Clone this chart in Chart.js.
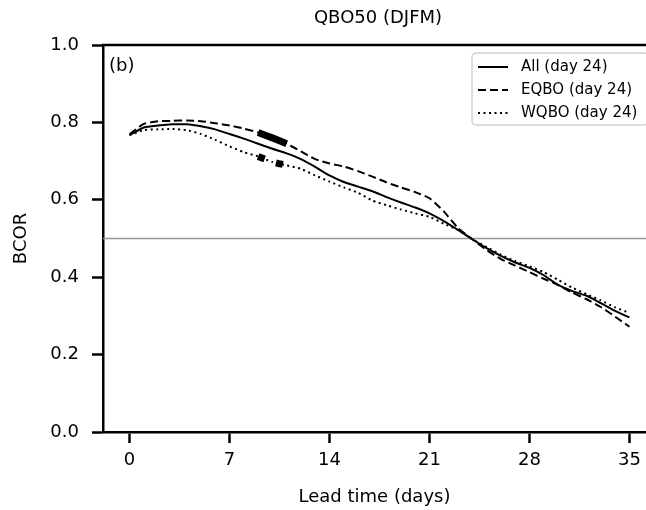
<!DOCTYPE html>
<html>
<head>
<meta charset="utf-8">
<script src="https://cdn.jsdelivr.net/npm/chart.js@4"></script>
<style>
  body { margin: 0; background: #fff; }
  canvas { display: block; }
</style>
</head>
<body>
<canvas id="bcorChart" width="646" height="510"></canvas>
<script>
// Lead time (days)
const leadDays = [0,1,2,3,4,5,6,7,8,9,10,11,12,13,14,15,16,17,18,19,20,21,22,23,24,25,26,27,28,29,30,31,32,33,34,35];

// BCOR per series
const allBcor = [0.767,0.787,0.792,0.795,0.795,0.790,0.782,0.770,0.758,0.745,0.732,0.720,0.705,0.685,0.663,0.646,0.634,0.622,0.607,0.593,0.580,0.565,0.545,0.522,0.498,0.475,0.455,0.438,0.424,0.405,0.380,0.364,0.352,0.333,0.313,0.296];
const eqboBcor = [0.770,0.796,0.803,0.804,0.805,0.803,0.798,0.792,0.784,0.774,0.760,0.745,0.725,0.705,0.694,0.686,0.674,0.660,0.645,0.632,0.620,0.604,0.570,0.527,0.498,0.470,0.447,0.430,0.413,0.396,0.380,0.360,0.343,0.323,0.298,0.272];
const wqboBcor = [0.767,0.780,0.782,0.783,0.780,0.770,0.755,0.738,0.723,0.712,0.698,0.689,0.680,0.663,0.647,0.632,0.618,0.598,0.586,0.575,0.565,0.556,0.538,0.522,0.498,0.478,0.458,0.442,0.428,0.413,0.393,0.373,0.356,0.340,0.322,0.308];

// highlighted lead-time window (days)
const boldRange = [9, 11];

const xTicks = [0, 7, 14, 21, 28, 35];
const yTicks = [0.0, 0.2, 0.4, 0.6, 0.8, 1.0];
const threshold = 0.5;

const FONT = "'DejaVu Sans', sans-serif";
const DASHED = [8, 4];
const DOTTED = [2, 3.5];

function pts(values, from, to) {
  return leadDays
    .map((d, i) => ({ x: d, y: values[i] }))
    .filter(p => (from === undefined || p.x >= from) && (to === undefined || p.x <= to));
}

const frame = {
  id: 'frame',
  beforeDatasetsDraw(chart) {
    const { ctx, chartArea, scales } = chart;
    const y = scales.y.getPixelForValue(threshold);
    ctx.save();
    ctx.strokeStyle = '#999';
    ctx.lineWidth = 1.5;
    ctx.beginPath();
    ctx.moveTo(chartArea.left, y);
    ctx.lineTo(chartArea.right, y);
    ctx.stroke();
    ctx.restore();
  },
  afterDraw(chart) {
    const { ctx, chartArea } = chart;
    ctx.save();
    // top spine
    ctx.strokeStyle = '#000';
    ctx.lineWidth = 2.5;
    ctx.beginPath();
    ctx.moveTo(chartArea.left - 1.25, chartArea.top);
    ctx.lineTo(chartArea.right, chartArea.top);
    ctx.stroke();

    // title
    ctx.fillStyle = '#000';
    ctx.font = '18px ' + FONT;
    ctx.textAlign = 'center';
    ctx.textBaseline = 'middle';
    ctx.fillText('QBO50 (DJFM)', 378, 18);

    // panel tag
    ctx.textAlign = 'left';
    ctx.fillText('(b)', 109, 66);

    // legend
    const bx = 472, by = 53, bw = 176, bh = 72, r = 4;
    ctx.fillStyle = 'rgba(255,255,255,0.85)';
    ctx.strokeStyle = '#d0d0d0';
    ctx.lineWidth = 1.5;
    ctx.beginPath();
    ctx.roundRect(bx, by, bw, bh, r);
    ctx.fill();
    ctx.stroke();

    const items = chart.data.datasets.filter(d => !d.bold);
    ctx.font = '15px ' + FONT;
    ctx.textBaseline = 'middle';
    items.forEach((d, i) => {
      const yy = 67 + i * 23;
      ctx.strokeStyle = '#000';
      ctx.lineWidth = 2;
      ctx.setLineDash(d.borderDash || []);
      ctx.beginPath();
      ctx.moveTo(478, yy);
      ctx.lineTo(508, yy);
      ctx.stroke();
      ctx.setLineDash([]);
      ctx.fillStyle = '#000';
      ctx.fillText(d.label, 521, yy);
    });
    ctx.restore();
  }
};

new Chart(document.getElementById('bcorChart'), {
  type: 'line',
  data: {
    datasets: [
      { label: 'All (day 24)', data: pts(allBcor), borderColor: '#000', borderWidth: 2, tension: 0.2 },
      { label: 'EQBO (day 24)', data: pts(eqboBcor), borderColor: '#000', borderWidth: 2, borderDash: DASHED, tension: 0.2 },
      { label: 'WQBO (day 24)', data: pts(wqboBcor), borderColor: '#000', borderWidth: 2, borderDash: DOTTED, tension: 0.2 },
      { label: 'EQBO bold', bold: true, data: pts(eqboBcor, boldRange[0], boldRange[1]), borderColor: '#000', borderWidth: 7, borderCapStyle: 'butt', tension: 0.2 },
      { label: 'WQBO bold', bold: true, data: pts(wqboBcor, boldRange[0], boldRange[1]), borderColor: '#000', borderWidth: 7, borderDash: [7, 12], borderCapStyle: 'butt', tension: 0.2 }
    ]
  },
  options: {
    responsive: false,
    animation: false,
    parsing: false,
    elements: { point: { radius: 0 } },
    layout: { padding: { top: 45, right: 0, left: 0, bottom: 0 } },
    plugins: { legend: { display: false }, tooltip: { enabled: false } },
    scales: {
      x: {
        type: 'linear',
        min: -1.86,
        max: 36.16,
        afterBuildTicks: s => { s.ticks = xTicks.map(v => ({ value: v })); },
        afterFit: s => { s.height = 78; s.paddingLeft = 0; s.paddingRight = 0; },
        grid: { drawOnChartArea: false, drawTicks: true, tickLength: 11, tickWidth: 2.5, tickColor: '#000' },
        border: { display: true, color: '#000', width: 2.5 },
        ticks: { color: '#000', font: { family: FONT, size: 18 }, padding: 7, maxRotation: 0 },
        title: { display: true, text: 'Lead time (days)', color: '#000', font: { family: FONT, size: 18 }, padding: { top: 4, bottom: 2 } }
      },
      y: {
        min: 0,
        max: 1,
        afterBuildTicks: s => { s.ticks = yTicks.map(v => ({ value: v })); },
        afterFit: s => { s.width = 103; s.paddingTop = 0; s.paddingBottom = 0; },
        grid: { drawOnChartArea: false, drawTicks: true, tickLength: 11, tickWidth: 2.5, tickColor: '#000' },
        border: { display: true, color: '#000', width: 2.5 },
        ticks: { color: '#000', font: { family: FONT, size: 18 }, padding: 13, callback: v => v.toFixed(1) },
        title: { display: true, text: 'BCOR', color: '#000', font: { family: FONT, size: 18 }, padding: { top: 11, bottom: 4 } }
      }
    }
  },
  plugins: [frame]
});
</script>
</body>
</html>
